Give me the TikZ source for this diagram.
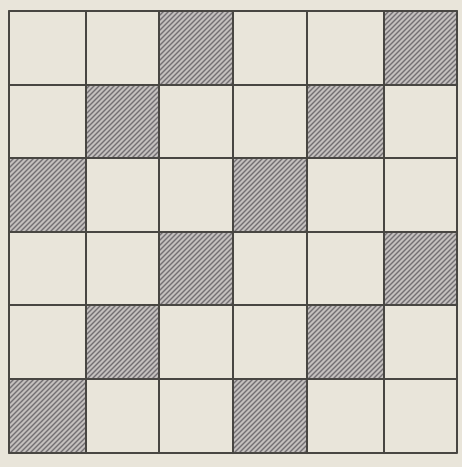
\documentclass[tikz,border=0pt]{standalone}
\definecolor{paper}{RGB}{233,229,218}
\definecolor{hatchfill}{RGB}{196,192,190}
\definecolor{hatchline}{RGB}{115,111,114}
\definecolor{gridline}{RGB}{72,70,66}
\tikzset{
  hatchstroke/.style={hatchline, line width=1.2pt},
  gridstroke/.style={gridline, line width=2pt, line cap=round}
}
\begin{document}
\begin{tikzpicture}[x=1pt,y=-1pt]
\fill[paper] (0,0) rectangle (462,467);
\useasboundingbox (0,0) rectangle (462,467);
\def\xs{{9,86,159,233,307,384,457}}
\def\ys{{11,85,158,232,305,379,453}}
\foreach \r/\c in {0/2,0/5,1/1,1/4,2/0,2/3,3/2,3/5,4/1,4/4,5/0,5/3} {
  \pgfmathsetmacro\xa{\xs[\c]}
  \pgfmathsetmacro\xb{\xs[\c+1]}
  \pgfmathsetmacro\ya{\ys[\r]}
  \pgfmathsetmacro\yb{\ys[\r+1]}
  \begin{scope}
    \clip (\xa,\ya) rectangle (\xb,\yb);
    \fill[hatchfill] (\xa,\ya) rectangle (\xb,\yb);
    \foreach \k in {-84,-79,...,84} {
      \draw[hatchstroke] (\xa+\k,\yb) -- ++(84,-84);
    }
  \end{scope}
}
\foreach \x in {9,86,159,233,307,384,457} {
  \draw[gridstroke] (\x,11) -- (\x,453);
}
\foreach \y in {11,85,158,232,305,379,453} {
  \draw[gridstroke] (9,\y) -- (457,\y);
}
\end{tikzpicture}
\end{document}
